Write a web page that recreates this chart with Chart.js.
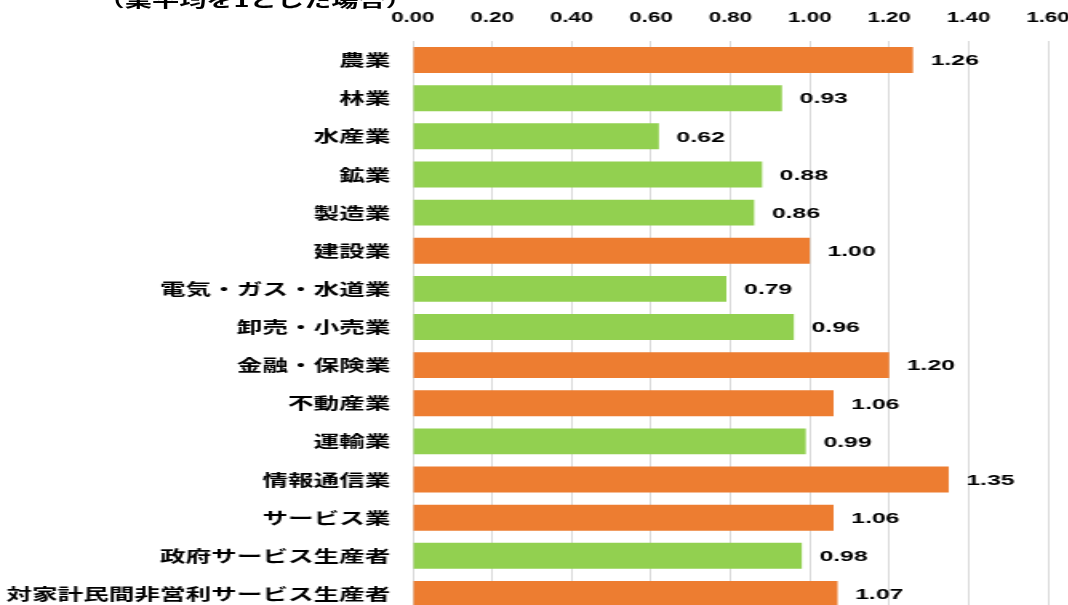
<!DOCTYPE html>
<html lang="ja">
<head>
<meta charset="utf-8">
<script src="https://cdn.jsdelivr.net/npm/chart.js@4/dist/chart.umd.min.js"></script>
<style>
  html, body { margin: 0; padding: 0; background: #fff; overflow: hidden; }
  /* the reference is stretched sideways, so the whole chart is drawn narrow and scaled */
  #wrap {
    position: absolute; left: 0; top: 0;
    width: 668px; height: 620px;
    transform: scaleX(1.6); transform-origin: 0 0;
  }
  #note {
    position: absolute; right: 410px; top: -9px;
    font: bold 17px "Noto Sans CJK JP"; line-height: 17px;
    color: #000; white-space: nowrap;
  }
</style>
</head>
<body>
<div id="wrap">
  <div id="note">（業平均を1とした場合）</div>
  <canvas id="chart" width="668" height="620"></canvas>
</div>
<script>
const industries = [
  "農業", "林業", "水産業", "鉱業", "製造業", "建設業", "電気・ガス・水道業",
  "卸売・小売業", "金融・保険業", "不動産業", "運輸業", "情報通信業",
  "サービス業", "政府サービス生産者", "対家計民間非営利サービス生産者"
];
const ratios = [1.26, 0.93, 0.62, 0.88, 0.86, 1.00, 0.79, 0.96, 1.20, 1.06, 0.99, 1.35, 1.06, 0.98, 1.07];
const xTicks = [0, 0.2, 0.4, 0.6, 0.8, 1.0, 1.2, 1.4, 1.6];

const ORANGE = "#ED7D31";
const GREEN = "#92D050";

// value labels at the end of each bar
const barLabels = {
  id: "barLabels",
  afterDatasetsDraw(chart) {
    const ctx = chart.ctx;
    const meta = chart.getDatasetMeta(0);
    ctx.save();
    ctx.font = "bold 15.5px 'Liberation Sans'";
    ctx.fillStyle = "#000";
    ctx.textAlign = "left";
    ctx.textBaseline = "middle";
    meta.data.forEach((bar, i) => {
      ctx.fillText(ratios[i].toFixed(2), bar.x + 11, bar.y + 1);
    });
    ctx.restore();
  }
};

new Chart(document.getElementById("chart"), {
  type: "bar",
  data: {
    labels: industries,
    datasets: [{
      data: ratios,
      backgroundColor: ratios.map(v => v >= 1 ? ORANGE : GREEN),
      borderWidth: 0,
      categoryPercentage: 1,
      barPercentage: 0.68
    }]
  },
  options: {
    indexAxis: "y",
    responsive: false,
    devicePixelRatio: 1,
    animation: false,
    layout: { padding: { left: 3, right: 13, top: 0, bottom: 7 } },
    plugins: {
      legend: { display: false },
      tooltip: { enabled: false }
    },
    scales: {
      x: {
        position: "top",
        min: 0,
        max: 1.6,
        afterBuildTicks: s => { s.ticks = xTicks.map(v => ({ value: v })); },
        afterFit: s => { s.height = 41; s.paddingLeft = 0; s.paddingRight = 0; },
        ticks: {
          padding: 14,
          color: "#000",
          font: { family: "Liberation Sans", weight: "bold", size: 14 },
          callback: v => Number(v).toFixed(2)
        },
        grid: { color: "#d9d9d9", lineWidth: 1, drawTicks: false },
        border: { display: false }
      },
      y: {
        afterFit: s => { s.width = 255; s.paddingTop = 0; s.paddingBottom = 0; },
        ticks: {
          padding: 14,
          color: "#000",
          font: { family: "Noto Sans CJK JP", weight: "bold", size: 16 }
        },
        grid: { display: false, drawTicks: false },
        border: { color: "#d9d9d9", width: 1 }
      }
    }
  },
  plugins: [barLabels]
});
</script>
</body>
</html>
